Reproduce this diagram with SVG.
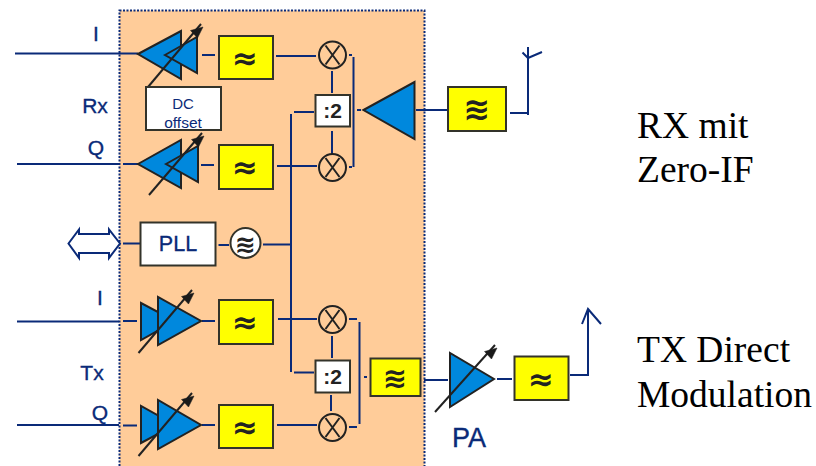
<svg xmlns="http://www.w3.org/2000/svg" width="816" height="466" viewBox="0 0 816 466">
<style>
.c{fill:none;stroke:#0a2a78;stroke-width:2}
.t{font-family:"Liberation Sans",Arial,sans-serif;fill:#0a2a78;stroke:#0a2a78;stroke-width:.35;text-anchor:middle}
.o{font-family:"Liberation Sans",Arial,sans-serif;fill:#0a2a78;text-anchor:middle}
.s{font-family:"Liberation Serif","Times New Roman",serif;fill:#000;font-size:37.5px}
.y{fill:#ffff00;stroke:#33332a;stroke-width:2}
.w{fill:#fff;stroke:#33332a;stroke-width:2}
.b{fill:#0088dd;stroke:#222;stroke-width:2;stroke-linejoin:miter}
.a{fill:none;stroke:#222;stroke-width:2}
.h{fill:#1a1a1a;stroke:#1a1a1a;stroke-width:.5}
.m{fill:none;stroke:#222;stroke-width:2}
.f{font-family:"DejaVu Sans",sans-serif;font-weight:bold;fill:#222;text-anchor:middle}
.d{font-family:"Liberation Sans",sans-serif;font-weight:bold;font-size:21px;fill:#222;text-anchor:middle}
</style>
<defs>
<g id="mix"><circle r="13.500" class="m"/><path d="M-7-9.500L7 9.500M7-9.500L-7 9.500" class="m"/></g>
<path id="head" d="M-10.500 5.500L2 2L-3.500 13Z" class="h"/>
</defs>
<rect id="panel" x="119.500" y="10.500" width="305" height="460" fill="#ffcc99" stroke="#0a2a78" stroke-width="2" stroke-dasharray="2 1.500"/>
<g id="connectors">
<path class="c" d="M15 53.500H138M202 55H215M276 56H316M17 164H119M123 164H138M201 165H214M277 166H317"/>
<path class="c" d="M332 71V93M332 131V154M349 55H352M349 167H352M353.500 57V167M357 110H361M416 110H447M510 113H527M528 115V47M522.500 52.500L528 58L542 52"/>
<path class="c" d="M294 112H314M291 114V372M294 372.500H314M123 243.500H140M218.500 245H229M263 244.500H291"/>
<path class="c" d="M17 321.500H119M123 321H137M202 321H215M278 319H317M17 425H119M123 425.500H137M202 425H215M277 425H317"/>
<path class="c" d="M332 336V358M331 395V411M349 319H357M349 427H357M359.500 322V424M364 377H367M424 380H448M497 379H512M570 375H587M588 376V309M582 324L588 309L601 324"/>
<path d="M68.500 243.500L79 229.500V234H109V229.500L120 243.500L109 258V253H79V258Z" fill="#fff" stroke="#0a2a78" stroke-width="2"/>
</g>
<g id="rx-i-amp"><path class="b" d="M138 54L181 31V79Z"/><path class="b" d="M165 55L197 37V73Z"/><path class="a" d="M148 87L201 24"/><use href="#head" transform="translate(201 25)"/></g>
<g id="rx-i-filter"><rect class="y" x="219" y="36" width="54" height="43"/><text class="f" x="245" y="69" font-size="31">≈</text></g>
<g id="rx-dc"><rect class="w" x="146" y="87" width="75" height="43"/><text class="o" x="183" y="109" font-size="15">DC</text><text class="o" x="183" y="128" font-size="15.500">offset</text></g>
<g id="rx-q-amp"><path class="b" d="M138 164L181 140V188Z"/><path class="b" d="M166 164L198 146V182Z"/><path class="a" d="M149 195L202 133"/><use href="#head" transform="translate(202 134)"/></g>
<g id="rx-q-filter"><rect class="y" x="219" y="145" width="54" height="44"/><text class="f" x="245" y="178" font-size="31">≈</text></g>
<g id="rx-mix-1"><use href="#mix" x="332.500" y="55"/></g>
<g id="rx-mix-2"><use href="#mix" x="332.500" y="167.500"/></g>
<g id="rx-div"><rect class="w" x="315.500" y="95" width="34.500" height="31.500"/><text class="d" x="332.500" y="118">:2</text></g>
<g id="lna"><path class="b" d="M363.500 110L414.500 82V139Z"/></g>
<g id="rx-rf-filter"><rect class="y" x="448" y="87" width="58" height="44"/><text class="f" x="477" y="120" font-size="32">≋</text></g>
<g id="pll"><rect class="w" x="140.500" y="222.500" width="75" height="43"/><text class="t" x="178" y="250.500" font-size="21.500">PLL</text></g>
<g id="pll-filter"><circle class="w" cx="245.500" cy="243" r="15"/><text class="f" x="245.500" y="253" font-size="25">≋</text></g>
<g id="tx-i-amp"><path class="b" d="M141 303V340L175 321Z"/><path class="b" d="M158 297V345L201 321Z"/><path class="a" d="M138.500 353L192 290"/><use href="#head" transform="translate(192 291)"/></g>
<g id="tx-i-filter"><rect class="y" x="219" y="300" width="54" height="44"/><text class="f" x="245" y="333" font-size="31">≈</text></g>
<g id="tx-q-amp"><path class="b" d="M141 406V443L175 425Z"/><path class="b" d="M158 400V449L201 425Z"/><path class="a" d="M138.500 456L192 393"/><use href="#head" transform="translate(192 394)"/></g>
<g id="tx-q-filter"><rect class="y" x="219" y="405" width="54" height="43"/><text class="f" x="245" y="438" font-size="31">≈</text></g>
<g id="tx-mix-1"><use href="#mix" x="332.500" y="319.500"/></g>
<g id="tx-mix-2"><use href="#mix" x="332.500" y="427.500"/></g>
<g id="tx-div"><rect class="w" x="315.500" y="360.500" width="34.500" height="32"/><text class="d" x="332.500" y="384">:2</text></g>
<g id="tx-filter"><rect class="y" x="370.500" y="358.500" width="50" height="37.500"/><text class="f" x="395" y="388" font-size="29">≋</text></g>
<g id="pa"><path class="b" d="M450 353V407L494 379Z"/><path class="a" d="M435 412L495 345"/><use href="#head" transform="translate(495 346)"/></g>
<g id="tx-out-filter"><rect class="y" x="514.500" y="356.500" width="54" height="43.500"/><text class="f" x="541" y="389.500" font-size="31">≈</text></g>
<g id="labels">
<text class="t" x="96" y="41" font-size="21">I</text>
<text class="t" x="95" y="113" font-size="21">Rx</text>
<text class="t" x="96" y="155" font-size="21">Q</text>
<text class="t" x="100" y="305" font-size="21">I</text>
<text class="t" x="92" y="380" font-size="21">Tx</text>
<text class="t" x="100" y="420" font-size="21">Q</text>
<text class="t" x="469" y="447" font-size="27">PA</text>
<text class="s" x="637" y="137.500">RX mit</text>
<text class="s" x="637" y="182">Zero-IF</text>
<text class="s" x="637" y="362">TX Direct</text>
<text class="s" x="637" y="407">Modulation</text>
</g>
</svg>
